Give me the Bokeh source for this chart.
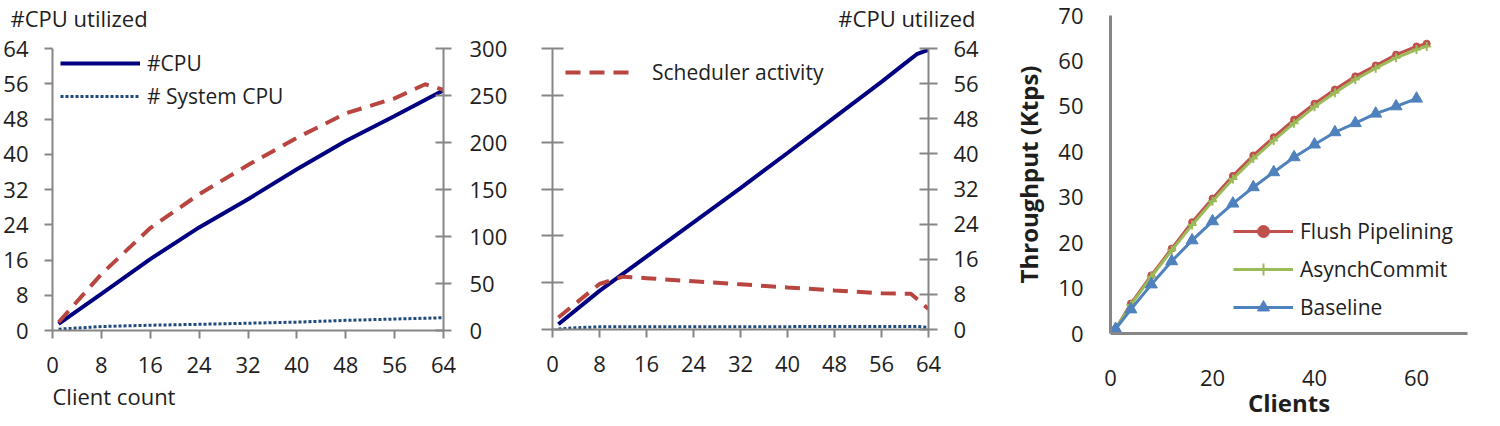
from bokeh.plotting import figure
from bokeh.models import Range1d, LinearAxis, FixedTicker, Title, CustomJSTickFormatter
from bokeh.layouts import row
from bokeh.embed import file_html
from bokeh.resources import INLINE

FONT = "Open Sans"
TXT = "#1e1e1e"
AX = "#868686"
FS = "22px"
LFS = "21px"

NAVY = "#000080"
RED_D = "#B8453F"
DOT = "#1F497D"

# ---------------- Panel 1 data ----------------
p1_clients = [1, 8, 16, 24, 32, 40, 48, 56, 64]
p1_cpu = [1.5, 8.3, 16.2, 23.4, 29.8, 36.6, 43.0, 48.7, 54.5]
p1_sys_cpu = [0.3, 0.9, 1.2, 1.4, 1.65, 1.9, 2.3, 2.6, 2.9]
p1_sched_clients = [1, 8, 16, 24, 32, 40, 48, 56, 61, 64]
p1_sched = [8.8, 60, 109, 145, 176, 205, 231, 247, 262, 256]

# ---------------- Panel 2 data ----------------
p2_clients = [1, 8, 16, 24, 32, 40, 48, 56, 60, 62, 64]
p2_cpu = [1.2, 8.8, 16.6, 24.4, 32.2, 40.2, 48.3, 56.4, 60.6, 62.7, 63.7]
p2_sys_clients = [1, 4, 8, 16, 24, 32, 40, 48, 56, 62, 64]
p2_sys_cpu = [0.1, 0.4, 0.6, 0.6, 0.6, 0.65, 0.65, 0.7, 0.7, 0.7, 0.5]
p2_sched_clients = [1, 8, 12, 16, 24, 32, 40, 48, 56, 61, 64]
p2_sched = [12.8, 48.6, 56.4, 54.8, 51.5, 48.2, 44.9, 41.7, 38.6, 38.2, 21.8]

# ---------------- Panel 3 data ----------------
p3_clients = [1, 4, 8, 12, 16, 20, 24, 28, 32, 36, 40, 44, 48, 52, 56, 60, 62]
p3_flush = [1.0, 6.6, 12.8, 18.7, 24.5, 29.7, 34.7, 39.2, 43.2, 47.1, 50.6, 53.7, 56.6, 59.0, 61.4, 63.2, 63.8]
p3_async = [1.0, 6.3, 12.5, 18.3, 23.9, 29.1, 34.0, 38.5, 42.5, 46.3, 49.9, 53.0, 55.9, 58.4, 60.7, 62.5, 63.2]
p3_base_clients = [1, 4, 8, 12, 16, 20, 24, 28, 32, 36, 40, 44, 48, 52, 56, 60]
p3_base = [1.0, 5.3, 10.8, 15.9, 20.5, 24.7, 28.6, 32.2, 35.5, 38.8, 41.6, 44.3, 46.3, 48.4, 50.0, 51.7]

cpu_ticks = [0, 8, 16, 24, 32, 40, 48, 56, 64]
sched_ticks = [0, 50, 100, 150, 200, 250, 300]
p3_xticks = [0, 20, 40, 60]
p3_yticks = [0, 10, 20, 30, 40, 50, 60, 70]


def style_axis(ax, ticks, tin, tout, standoff, labels=True, width=2):
    ax.ticker = FixedTicker(ticks=ticks)
    ax.axis_line_color = AX
    ax.axis_line_width = width
    ax.major_tick_line_color = AX
    ax.major_tick_line_width = 2
    ax.major_tick_in = tin
    ax.major_tick_out = tout
    ax.minor_tick_line_color = None
    ax.major_label_text_font = FONT
    ax.major_label_text_font_size = FS
    ax.major_label_text_color = TXT
    ax.major_label_standoff = standoff
    if not labels:
        ax.formatter = CustomJSTickFormatter(code="return ''")


def style_legend(lg, loc, gw, gh, spacing, standoff):
    lg.location = loc
    lg.glyph_width = gw
    lg.glyph_height = gh
    lg.label_height = gh
    lg.spacing = spacing
    lg.padding = 0
    lg.margin = 0
    lg.label_standoff = standoff
    lg.border_line_color = None
    lg.background_fill_alpha = 0
    lg.label_text_font = FONT
    lg.label_text_font_size = LFS
    lg.label_text_color = TXT


def text_title(text, align, offset, standoff, size="22px"):
    return Title(text=text, align=align, offset=offset, standoff=standoff,
                 text_font=FONT, text_font_size=size, text_font_style="normal",
                 text_color=TXT)


def spacer_title():
    # empty spacer that lifts the real heading away from the frame
    return Title(text=" ", standoff=0, text_font=FONT, text_font_size="10px")


def base_fig(width, xr, yr, bl, br, bt, bb):
    p = figure(width=width, height=426, x_range=xr, y_range=yr,
               output_backend="svg", toolbar_location=None,
               min_border_left=bl, min_border_right=br,
               min_border_top=bt, min_border_bottom=bb)
    p.xgrid.visible = False
    p.ygrid.visible = False
    p.outline_line_color = None
    p.background_fill_color = "white"
    p.border_fill_color = "white"
    if "frame_align" in p.properties():
        p.frame_align = False
    return p


# ================= Panel 1 =================
p1 = base_fig(530, Range1d(0, 64), Range1d(0, 64), 52, 87, 47, 96)
p1.extra_y_ranges = {"sched": Range1d(0, 300)}
p1.add_layout(LinearAxis(y_range_name="sched"), "right")
style_axis(p1.xaxis[0], cpu_ticks, 0, 8, 18)
style_axis(p1.yaxis[0], cpu_ticks, 0, 8, 16)
style_axis(p1.yaxis[1], sched_ticks, 8, 8, 18)

p1.line(p1_clients, p1_cpu, line_color=NAVY, line_width=4, legend_label="#CPU")
p1.line(p1_clients, p1_sys_cpu, line_color=DOT, line_width=3, line_dash="3 2",
        legend_label="# System CPU")
p1.line(p1_sched_clients, p1_sched, y_range_name="sched", line_color=RED_D,
        line_width=4, line_dash="15 9")
style_legend(p1.legend[0], (8, 219), 80, 30, 3, 7)

p1.add_layout(spacer_title(), "above")
p1.add_layout(text_title("#CPU utilized", "left", -42, 0), "above")
p1.add_layout(text_title("Client count", "left", 0, 6), "below")

# ================= Panel 2 =================
p2 = base_fig(460, Range1d(0, 64), Range1d(0, 300), 22, 62, 48, 97)
p2.extra_y_ranges = {"cpu": Range1d(0, 64)}
p2.add_layout(LinearAxis(y_range_name="cpu"), "right")
style_axis(p2.xaxis[0], cpu_ticks, 0, 8, 18)
style_axis(p2.yaxis[0], sched_ticks, 11, 11, 0, labels=False)
style_axis(p2.yaxis[1], cpu_ticks, 9, 9, 16)

p2.line(p2_clients, p2_cpu, y_range_name="cpu", line_color=NAVY, line_width=4)
p2.line(p2_sys_clients, p2_sys_cpu, y_range_name="cpu", line_color=DOT,
        line_width=3, line_dash="3 2")
p2.line(p2_sched_clients, p2_sched, line_color=RED_D, line_width=4,
        line_dash="15 9", legend_label="Scheduler activity")
style_legend(p2.legend[0], (13, 242), 65, 30, 3, 22)

p2.add_layout(spacer_title(), "above")
p2.add_layout(text_title("#CPU utilized", "right", -47, 0), "above")

# ================= Panel 3 =================
p3 = base_fig(510, Range1d(0, 70), Range1d(0, 70), 120, 33, 15, 93)
style_axis(p3.xaxis[0], p3_xticks, 0, 0, 36, width=3)
style_axis(p3.yaxis[0], p3_yticks, 0, 0, 27, width=3)
for ax, lab, st in ((p3.xaxis[0], "Clients", -3), (p3.yaxis[0], "Throughput (Ktps)", 10)):
    ax.axis_label = lab
    ax.axis_label_text_font = FONT
    ax.axis_label_text_font_size = "24px"
    ax.axis_label_text_font_style = "bold"
    ax.axis_label_text_color = TXT
    ax.axis_label_standoff = st

C_FP = "#C0504D"
C_AC = "#9BBB59"
C_BL = "#4F81BD"
p3.line(p3_clients, p3_flush, line_color=C_FP, line_width=3, legend_label="Flush Pipelining")
p3.scatter(p3_clients, p3_flush, marker="circle", size=7, fill_color=C_FP,
           line_color=C_FP, legend_label="Flush Pipelining")
p3.line(p3_clients, p3_async, line_color=C_AC, line_width=3, legend_label="AsynchCommit")
p3.scatter(p3_clients, p3_async, marker="cross", size=9, line_width=2,
           line_color=C_AC, legend_label="AsynchCommit")
p3.line(p3_base_clients, p3_base, line_color=C_BL, line_width=3, legend_label="Baseline")
p3.scatter(p3_base_clients, p3_base, marker="triangle", size=12, fill_color=C_BL,
           line_color=C_BL, legend_label="Baseline")
style_legend(p3.legend[0], (123, 11), 60, 30, 8, 7)

layout = row(p1, p2, p3, spacing=0)
open("out.html", "w").write(file_html(layout, INLINE))
